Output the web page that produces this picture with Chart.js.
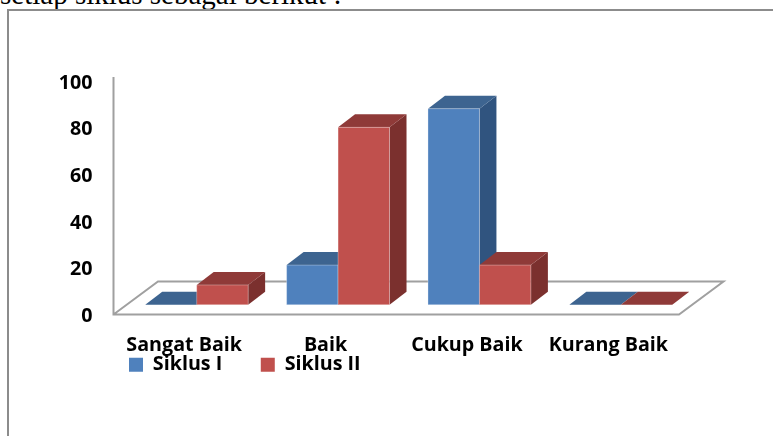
<!DOCTYPE html>
<html>
<head>
<meta charset="utf-8">
<title>Siklus I dan II</title>
<script src="https://cdn.jsdelivr.net/npm/chart.js@4/dist/chart.umd.js"></script>
<style>
  html, body { margin: 0; padding: 0; background: #fff; overflow: hidden; }
  #page { position: relative; width: 773px; height: 436px; overflow: hidden; }
  #caption {
    position: absolute; left: 0; top: -22px; white-space: nowrap;
    font: 29px "Liberation Serif", serif; color: #000;
  }
  #frame {
    position: absolute; left: 7px; top: 9px; width: 800px; height: 500px;
    border: 2px solid #8c8c8c; box-sizing: border-box; background: #fff;
  }
  canvas { position: absolute; left: 0; top: 0; }
</style>
</head>
<body>
<div id="page">
  <div id="caption">setiap siklus sebagai berikut :</div>
  <div id="frame"></div>
  <canvas id="myChart" width="773" height="436"></canvas>
</div>
<script>
const categories = ["Sangat Baik", "Baik", "Cukup Baik", "Kurang Baik"];
const siklus1 = [0, 17, 84, 0];
const siklus2 = [8.5, 76, 17, 0];
const yTicks = [0, 20, 40, 60, 80, 100];

const labelFont = { family: "'Open Sans', sans-serif", size: 19.7, weight: "700" };
const axisColor = "#a0a0a0";

// depth of the fake 3D floor and of the bars sitting on it
const floorDepth = { x: 44.5, y: -33 };
const barOffset = { x: 12.5, y: -9.7 };
const barDepth = { x: 17, y: -13 };

// top and side shades for each series
const shades = [
  { top: "#3d6490", side: "#30547f" },
  { top: "#8f3a38", side: "#7b302e" },
];

function poly(ctx, pts, color) {
  ctx.fillStyle = color;
  ctx.beginPath();
  pts.forEach((p, i) => (i ? ctx.lineTo(p[0], p[1]) : ctx.moveTo(p[0], p[1])));
  ctx.closePath();
  ctx.fill();
}

function drawBars(chart, index) {
  const { ctx } = chart;
  const color = chart.data.datasets[index].backgroundColor;
  const shade = shades[index];
  chart.getDatasetMeta(index).data.forEach((bar) => {
    const l = bar.x - bar.width / 2 + barOffset.x;
    const r = bar.x + bar.width / 2 + barOffset.x;
    const t = bar.y + barOffset.y;
    const b = bar.base + barOffset.y;
    const dx = barDepth.x;
    const dy = barDepth.y;
    poly(ctx, [[r, t], [r + dx, t + dy], [r + dx, b + dy], [r, b]], shade.side);
    poly(ctx, [[l, t], [l + dx, t + dy], [r + dx, t + dy], [r, t]], shade.top);
    if (b - t > 0.5) {
      poly(ctx, [[l, t], [r, t], [r, b], [l, b]], color);
      // thin light edge on the front face
      ctx.strokeStyle = "rgba(255,255,255,0.3)";
      ctx.lineWidth = 1;
      ctx.strokeRect(l, t, r - l, b - t);
    }
  });
}

const bar3d = {
  id: "bar3d",
  beforeLayout(chart) {
    // legend should not take room from the plot
    const lg = chart.legend;
    if (lg.fit3d) return;
    const fit = lg.fit;
    lg.fit3d = true;
    lg.fit = function () {
      fit.call(this);
      this.height = 0;
    };
  },
  afterUpdate(chart) {
    // legend sits under the axis labels, the library only knows the usual spots
    const lg = chart.legend;
    lg.left = 90.5;
    lg.right = 773;
    lg.top = 316.5;
    lg.bottom = 436;
  },
  beforeDatasetsDraw(chart) {
    const { ctx, chartArea: a } = chart;
    ctx.save();
    ctx.strokeStyle = axisColor;
    ctx.lineWidth = 2;
    ctx.beginPath();
    ctx.moveTo(a.left, a.top - 4);
    ctx.lineTo(a.left, a.bottom);
    ctx.lineTo(a.right, a.bottom);
    ctx.lineTo(a.right + floorDepth.x, a.bottom + floorDepth.y);
    ctx.lineTo(a.left + floorDepth.x, a.bottom + floorDepth.y);
    ctx.lineTo(a.left, a.bottom);
    ctx.stroke();
    ctx.restore();
    // blue first, red in front of it
    chart.data.datasets.forEach((d, i) => drawBars(chart, i));
  },
  beforeDatasetDraw() {
    return false; // stock flat bars are not wanted
  },
};

new Chart(document.getElementById("myChart"), {
  type: "bar",
  data: {
    labels: categories,
    datasets: [
      { label: "Siklus I", data: siklus1, backgroundColor: "#4f81bd" },
      { label: "Siklus II", data: siklus2, backgroundColor: "#c0504d" },
    ],
  },
  options: {
    responsive: false,
    animation: false,
    layout: { padding: { top: 81, right: 94, left: 0, bottom: 0 } },
    datasets: { bar: { barPercentage: 1, categoryPercentage: 0.728 } },
    scales: {
      x: {
        grid: { display: false, drawTicks: false },
        border: { display: false },
        ticks: { color: "#000", font: labelFont, padding: 19, maxRotation: 0 },
        afterFit: (s) => { s.height = 121.5; },
      },
      y: {
        min: 0,
        max: 100,
        grid: { display: false, drawTicks: false },
        border: { display: false },
        afterBuildTicks: (s) => { s.ticks = yTicks.map((v) => ({ value: v })); },
        ticks: { color: "#000", font: labelFont, padding: 21, labelOffset: 2 },
        afterFit: (s) => { s.width = 113.5; },
      },
    },
    plugins: {
      tooltip: { enabled: false },
      legend: {
        position: "bottom",
        align: "start",
        labels: {
          color: "#000",
          font: labelFont,
          boxWidth: 14,
          boxHeight: 14,
          padding: 38.5,
        },
      },
    },
  },
  plugins: [bar3d],
});
</script>
</body>
</html>
